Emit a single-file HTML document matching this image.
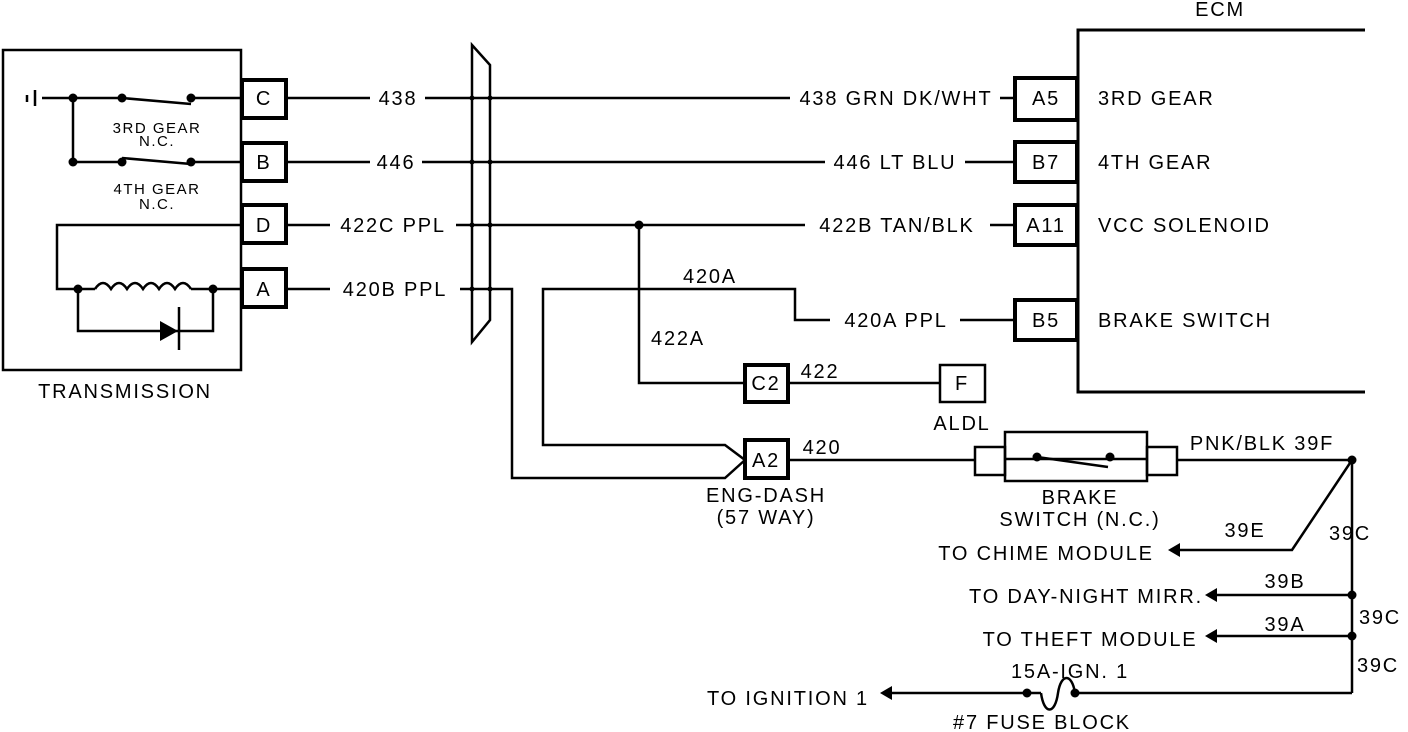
<!DOCTYPE html>
<html><head><meta charset="utf-8"><style>
html,body{margin:0;padding:0;background:#fff;}
svg{display:block;}
text{font-family:"Liberation Sans",sans-serif;font-size:20px;fill:#000;letter-spacing:1.8px;}
</style></head><body>
<svg width="1408" height="732" viewBox="0 0 1408 732" xmlns="http://www.w3.org/2000/svg">
<g stroke="#000" stroke-width="2.5" fill="none">
<rect x="3" y="50" width="238" height="320" stroke-width="2.5"/>
<rect x="242" y="80" width="44" height="38" stroke-width="4"/>
<rect x="242" y="143" width="44" height="38" stroke-width="4"/>
<rect x="242" y="205" width="44" height="38" stroke-width="4"/>
<rect x="242" y="269" width="44" height="38" stroke-width="4"/>
<line x1="27" y1="95" x2="27" y2="102"/>
<line x1="35" y1="90" x2="35" y2="106"/>
<line x1="42" y1="98" x2="122" y2="98"/>
<line x1="122" y1="98" x2="191" y2="104"/>
<line x1="191" y1="98" x2="242" y2="98"/>
<line x1="73" y1="98" x2="73" y2="162"/>
<line x1="73" y1="162" x2="122" y2="162"/>
<line x1="122" y1="158" x2="191" y2="164"/>
<line x1="191" y1="162" x2="242" y2="162"/>
<polyline points="242,225 57,225 57,289 95,289"/>
<path d="M95,289 q8,-12 16,0 q8,-12 16,0 q8,-12 16,0 q8,-12 16,0 q8,-12 16,0 q8,-12 16,0"/>
<line x1="191" y1="289" x2="242" y2="289"/>
<polyline points="78,289 78,331 213,331 213,289"/>
<line x1="179" y1="307" x2="179" y2="350"/>
<line x1="286" y1="98" x2="370" y2="98"/>
<line x1="425" y1="98" x2="790" y2="98"/>
<line x1="1000" y1="98" x2="1015" y2="98"/>
<line x1="286" y1="162" x2="370" y2="162"/>
<line x1="422" y1="162" x2="825" y2="162"/>
<line x1="965" y1="162" x2="1015" y2="162"/>
<line x1="286" y1="225" x2="330" y2="225"/>
<line x1="456" y1="225" x2="805" y2="225"/>
<line x1="990" y1="225" x2="1015" y2="225"/>
<line x1="286" y1="289" x2="330" y2="289"/>
<polyline points="460,289 512,289 512,478 725,478 745,460"/>
<polyline points="745,460 725,445 543,445 543,289 795,289 795,320 830,320"/>
<line x1="960" y1="320" x2="1015" y2="320"/>
<polygon points="472,45 490,65 490,320 472,342" stroke-width="2.5"/>
<polyline points="1365,30 1078,30 1078,392 1365,392" stroke-width="3"/>
<rect x="1015" y="78" width="62" height="42" stroke-width="4"/>
<rect x="1015" y="142" width="62" height="40" stroke-width="4"/>
<rect x="1015" y="205" width="62" height="40" stroke-width="4"/>
<rect x="1015" y="300" width="62" height="40" stroke-width="4"/>
<polyline points="639,225 639,383 745,383"/>
<rect x="745" y="365" width="43" height="37" stroke-width="4"/>
<line x1="788" y1="383" x2="940" y2="383"/>
<rect x="940" y="365" width="45" height="37" stroke-width="2.5"/>
<rect x="745" y="440" width="43" height="38" stroke-width="4"/>
<line x1="788" y1="460" x2="975" y2="460"/>
<rect x="1005" y="432" width="142" height="49" stroke-width="2.5"/>
<rect x="975" y="447" width="30" height="28" stroke-width="2.5"/>
<rect x="1147" y="447" width="30" height="28" stroke-width="2.5"/>
<line x1="1005" y1="459" x2="1147" y2="459"/>
<line x1="1037" y1="457" x2="1108" y2="467"/>
<line x1="1177" y1="460" x2="1352" y2="460"/>
<line x1="1352" y1="460" x2="1352" y2="693"/>
<polyline points="1352,460 1292,550 1178,550"/>
<line x1="1352" y1="595" x2="1215" y2="595"/>
<line x1="1352" y1="636" x2="1215" y2="636"/>
<line x1="1352" y1="693" x2="1075" y2="693"/>
<path d="M1075,693 c-3,-20 -14,-20 -17,0 c-3,22 -14,22 -17,0"/>
<line x1="1041" y1="693" x2="890" y2="693"/>
</g>
<g fill="#000">
<circle cx="73" cy="98" r="4.5"/><circle cx="122" cy="98" r="4.5"/><circle cx="191" cy="98" r="4.5"/>
<circle cx="73" cy="162" r="4.5"/><circle cx="122" cy="162" r="4.5"/><circle cx="191" cy="162" r="4.5"/>
<circle cx="78" cy="289" r="4.5"/><circle cx="213" cy="289" r="4.5"/>
<polygon points="160,321 178,331 160,341"/>
<circle cx="472" cy="98" r="2.5"/><circle cx="490" cy="98" r="2.5"/>
<circle cx="472" cy="162" r="2.5"/><circle cx="490" cy="162" r="2.5"/>
<circle cx="472" cy="225" r="2.5"/><circle cx="490" cy="225" r="2.5"/>
<circle cx="472" cy="289" r="2.5"/><circle cx="490" cy="289" r="2.5"/>
<circle cx="639" cy="225" r="4.5"/>
<circle cx="1037" cy="457" r="4.5"/><circle cx="1110" cy="457" r="4.5"/>
<circle cx="1352" cy="460" r="4.5"/><circle cx="1352" cy="595" r="4.5"/><circle cx="1352" cy="636" r="4.5"/>
<circle cx="1075" cy="693" r="4.5"/><circle cx="1027" cy="693" r="4.5"/>
<polygon points="1168,550 1180,543 1180,557"/>
<polygon points="1205,595 1217,588 1217,602"/>
<polygon points="1205,636 1217,629 1217,643"/>
<polygon points="880,693 892,686 892,700"/>
</g>
<g>
<text x="264" y="105" text-anchor="middle">C</text>
<text x="264" y="169" text-anchor="middle">B</text>
<text x="264" y="232" text-anchor="middle">D</text>
<text x="264" y="296" text-anchor="middle">A</text>
<text x="157" y="133" text-anchor="middle" style="font-size:15px;letter-spacing:1.5px">3RD GEAR</text>
<text x="157" y="146" text-anchor="middle" style="font-size:15px;letter-spacing:1.5px">N.C.</text>
<text x="157" y="194" text-anchor="middle" style="font-size:15px;letter-spacing:1.5px">4TH GEAR</text>
<text x="157" y="209" text-anchor="middle" style="font-size:15px;letter-spacing:1.5px">N.C.</text>
<text x="125" y="398" text-anchor="middle">TRANSMISSION</text>
<text x="398" y="105" text-anchor="middle">438</text>
<text x="396" y="169" text-anchor="middle">446</text>
<text x="393" y="232" text-anchor="middle">422C PPL</text>
<text x="395" y="296" text-anchor="middle">420B PPL</text>
<text x="896" y="105" text-anchor="middle">438 GRN DK/WHT</text>
<text x="895" y="169" text-anchor="middle">446 LT BLU</text>
<text x="897" y="232" text-anchor="middle">422B TAN/BLK</text>
<text x="896" y="327" text-anchor="middle">420A PPL</text>
<text x="1046" y="105" text-anchor="middle">A5</text>
<text x="1046" y="169" text-anchor="middle">B7</text>
<text x="1046" y="232" text-anchor="middle">A11</text>
<text x="1046" y="327" text-anchor="middle">B5</text>
<text x="1220" y="16" text-anchor="middle">ECM</text>
<text x="1098" y="105">3RD GEAR</text>
<text x="1098" y="169">4TH GEAR</text>
<text x="1098" y="232">VCC SOLENOID</text>
<text x="1098" y="327">BRAKE SWITCH</text>
<text x="710" y="283" text-anchor="middle">420A</text>
<text x="678" y="345" text-anchor="middle">422A</text>
<text x="766" y="390" text-anchor="middle">C2</text>
<text x="820" y="378" text-anchor="middle">422</text>
<text x="962" y="390" text-anchor="middle">F</text>
<text x="962" y="430" text-anchor="middle">ALDL</text>
<text x="766" y="467" text-anchor="middle">A2</text>
<text x="822" y="454" text-anchor="middle">420</text>
<text x="766" y="502" text-anchor="middle">ENG-DASH</text>
<text x="766" y="524" text-anchor="middle">(57 WAY)</text>
<text x="1080" y="504" text-anchor="middle">BRAKE</text>
<text x="1080" y="526" text-anchor="middle">SWITCH (N.C.)</text>
<text x="1262" y="450" text-anchor="middle">PNK/BLK 39F</text>
<text x="1245" y="537" text-anchor="middle">39E</text>
<text x="1350" y="540" text-anchor="middle">39C</text>
<text x="1046" y="560" text-anchor="middle">TO CHIME MODULE</text>
<text x="1086" y="603" text-anchor="middle">TO DAY-NIGHT MIRR.</text>
<text x="1285" y="588" text-anchor="middle">39B</text>
<text x="1380" y="624" text-anchor="middle">39C</text>
<text x="1285" y="631" text-anchor="middle">39A</text>
<text x="1090" y="646" text-anchor="middle">TO THEFT MODULE</text>
<text x="1378" y="672" text-anchor="middle">39C</text>
<text x="1070" y="678" text-anchor="middle">15A-IGN. 1</text>
<text x="788" y="705" text-anchor="middle">TO IGNITION 1</text>
<text x="1042" y="729" text-anchor="middle">#7 FUSE BLOCK</text>
</g>
</svg>
</body></html>
